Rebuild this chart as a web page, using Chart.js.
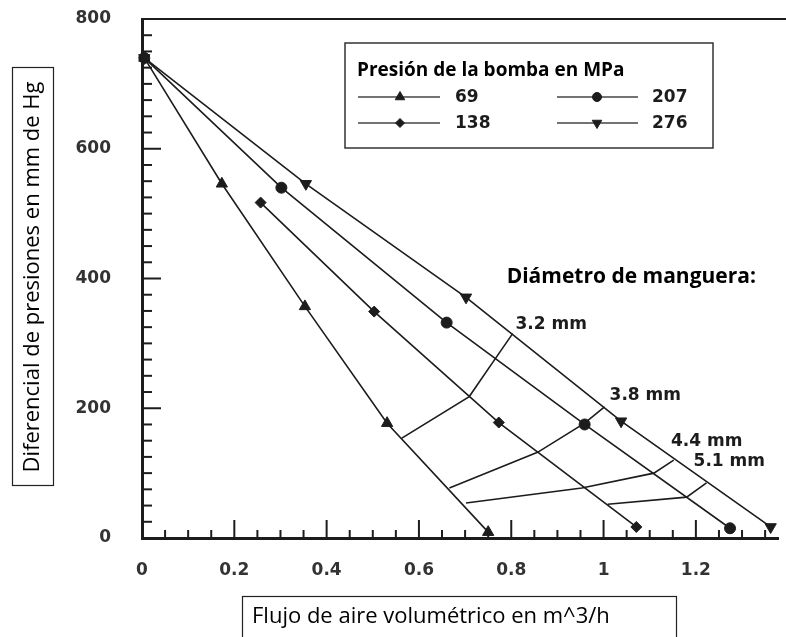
<!DOCTYPE html>
<html>
<head>
<meta charset="utf-8">
<script src="https://cdn.jsdelivr.net/npm/chart.js@4.4.0/dist/chart.umd.min.js"></script>
<style>
  html, body { margin: 0; padding: 0; background: #fff; }
  #wrap { position: relative; width: 786px; height: 637px; }
</style>
</head>
<body>
<div id="wrap"><canvas id="chart" width="786" height="637"></canvas></div>
<script>
// pump pressure series (MPa) - flow in m^3/h vs pressure differential in mm Hg
const seriesLabels = ['69', '138', '207', '276'];
const s69X = [0.005, 0.173, 0.353, 0.531, 0.750];
const s69Y = [740, 546, 357, 177, 9];
const s138X = [0.257, 0.503, 0.773, 1.071];
const s138Y = [517, 349, 178, 17];
const s207X = [0.005, 0.302, 0.660, 0.959, 1.274];
const s207Y = [740, 540, 332, 175, 15];
const s276X = [0.005, 0.355, 0.702, 1.038, 1.362];
const s276Y = [740, 546, 371, 180, 17];

// hose diameter lines
const hoseLabels = ['3.2 mm', '3.8 mm', '4.4 mm', '5.1 mm'];
const d32X = [0.563, 0.709, 0.764, 0.803];
const d32Y = [154, 218, 275, 315];
const d38X = [0.666, 0.857, 0.959, 1.002];
const d38Y = [77, 132, 177, 202];
const d44X = [0.702, 0.953, 1.109, 1.152];
const d44Y = [54, 77, 100, 120];
const d51X = [1.009, 1.180, 1.223];
const d51Y = [52, 63, 85];
// where the hose labels sit (data coords)
const hoseLabelX = [0.809, 1.013, 1.146, 1.195];
const hoseLabelY = [329, 220, 149, 118];

// axis
const xMin = 0, xMax = 1.379, xStep = 0.2, xMinor = 0.05;
const yMin = 0, yMax = 800, yStep = 200, yMinor = 25;

const ink = '#1c1c1c';

function pts(xs, ys) {
    return xs.map((x, i) => ({ x: x, y: ys[i] }))
}

const seriesStyle = [
    { pointStyle: 'triangle', rotation: 0, radius: 6.5 },
    { pointStyle: 'rectRot', rotation: 0, radius: 5.5 },
    { pointStyle: 'circle', rotation: 0, radius: 5.5 },
    { pointStyle: 'triangle', rotation: 180, radius: 6.5 }
]

const seriesData = [pts(s69X, s69Y), pts(s138X, s138Y), pts(s207X, s207Y), pts(s276X, s276Y)]
const hoseData = [pts(d32X, d32Y), pts(d38X, d38Y), pts(d44X, d44Y), pts(d51X, d51Y)]

let datasets = []
seriesData.forEach((d, i) => {
    datasets.push({
        label: seriesLabels[i],
        data: d,
        showLine: true,
        borderColor: ink,
        borderWidth: 1.6,
        backgroundColor: ink,
        pointBackgroundColor: ink,
        pointBorderColor: ink,
        pointBorderWidth: 1,
        pointStyle: seriesStyle[i].pointStyle,
        pointRotation: seriesStyle[i].rotation,
        pointRadius: seriesStyle[i].radius,
        clip: false
    })
})
hoseData.forEach((d, i) => {
    datasets.push({
        label: hoseLabels[i],
        data: d,
        showLine: true,
        borderColor: ink,
        borderWidth: 1.6,
        pointRadius: 0,
        clip: false
    })
})

function marker(ctx, style, x, y) {
    if (Chart.helpers && Chart.helpers.drawPoint) {
        ctx.fillStyle = ink
        ctx.strokeStyle = ink
        ctx.lineWidth = 1
        Chart.helpers.drawPoint(ctx, { pointStyle: style.pointStyle, rotation: style.rotation, radius: style.radius, borderWidth: 1 }, x, y)
    }
}

const extras = {
    id: 'extras',
    afterDraw(chart) {
        const ctx = chart.ctx
        const area = chart.chartArea
        const xs = chart.scales.x
        const ys = chart.scales.y
        ctx.save()

        // top frame line
        ctx.strokeStyle = ink
        ctx.lineWidth = 2
        ctx.beginPath()
        ctx.moveTo(area.left, area.top)
        ctx.lineTo(chart.width, area.top)
        ctx.stroke()

        // inward ticks
        ctx.lineWidth = 2
        for (let v = yMin; v <= yMax; v += yMinor) {
            const len = v % yStep === 0 ? 19 : 10
            const py = ys.getPixelForValue(v)
            ctx.beginPath()
            ctx.moveTo(area.left, py)
            ctx.lineTo(area.left + len, py)
            ctx.stroke()
        }
        for (let k = 0; k * xMinor <= xMax; k++) {
            const v = k * xMinor
            const len = k % 4 === 0 ? 18 : 8
            const px = xs.getPixelForValue(v)
            ctx.beginPath()
            ctx.moveTo(px, area.bottom)
            ctx.lineTo(px, area.bottom - len)
            ctx.stroke()
        }

        // hose diameter labels
        ctx.fillStyle = ink
        ctx.textBaseline = 'middle'
        ctx.textAlign = 'left'
        ctx.font = 'bold 17px "DejaVu Sans"'
        hoseLabels.forEach((t, i) => {
            ctx.fillText(t, xs.getPixelForValue(hoseLabelX[i]), ys.getPixelForValue(hoseLabelY[i]))
        })
        ctx.font = 'bold 21px "Open Sans"'
        ctx.fillStyle = '#000'
        ctx.fillText('Diámetro de manguera:', xs.getPixelForValue(0.790), ys.getPixelForValue(402))

        // legend
        ctx.strokeStyle = '#333'
        ctx.lineWidth = 1.5
        ctx.strokeRect(345, 43, 368, 105)
        ctx.fillStyle = '#000'
        ctx.font = 'bold 19px "Open Sans"'
        ctx.textBaseline = 'alphabetic'
        ctx.fillText('Presión de la bomba en MPa', 357, 76)
        const cols = [[358, 440, 400, 455], [557, 638, 597, 652]]
        const rows = [97, 123]
        const order = [[0, 0, 0], [1, 0, 1], [2, 1, 0], [3, 1, 1]]
        ctx.textBaseline = 'middle'
        order.forEach(o => {
            const c = cols[o[1]], ry = rows[o[2]]
            ctx.strokeStyle = '#444'
            ctx.lineWidth = 1.4
            ctx.beginPath()
            ctx.moveTo(c[0], ry)
            ctx.lineTo(c[1], ry)
            ctx.stroke()
            const st = Object.assign({}, seriesStyle[o[0]])
            st.radius = st.radius - 1
            marker(ctx, st, c[2], ry)
            ctx.fillStyle = ink
            ctx.font = 'bold 17px "DejaVu Sans"'
            ctx.fillText(seriesLabels[o[0]], c[3], ry + 1)
        })

        // boxed axis titles
        ctx.strokeStyle = '#222'
        ctx.lineWidth = 1.2
        ctx.strokeRect(12.5, 67.5, 41, 418)
        ctx.save()
        ctx.translate(33, 277)
        ctx.rotate(-Math.PI / 2)
        ctx.textAlign = 'center'
        ctx.textBaseline = 'middle'
        ctx.fillStyle = '#000'
        ctx.font = '22px "Open Sans"'
        ctx.fillText('Diferencial de presiones en mm de Hg', 0, 0)
        ctx.restore()

        ctx.strokeRect(242.5, 596.5, 434, 50)
        ctx.textAlign = 'left'
        ctx.textBaseline = 'middle'
        ctx.fillStyle = '#000'
        ctx.font = '22px "Open Sans"'
        ctx.fillText('Flujo de aire volumétrico en m^3/h', 252, 617)

        ctx.restore()
    }
}

const tickFont = { family: 'DejaVu Sans', size: 17, weight: 'bold' }

new Chart(document.getElementById('chart').getContext('2d'), {
    type: 'scatter',
    data: { datasets: datasets },
    plugins: [extras],
    options: {
        responsive: false,
        animation: false,
        devicePixelRatio: 1,
        layout: { padding: { top: 19, right: 0, left: 0, bottom: 0 } },
        plugins: {
            legend: { display: false },
            tooltip: { enabled: false }
        },
        scales: {
            x: {
                type: 'linear',
                min: xMin,
                max: xMax,
                ticks: {
                    stepSize: xStep,
                    includeBounds: false,
                    color: '#333',
                    font: tickFont,
                    padding: 22,
                    callback: v => Math.round(v * 10) / 10
                },
                grid: { drawOnChartArea: false, drawTicks: false },
                border: { display: true, width: 3, color: ink },
                afterFit(scale) {
                    scale.height = 99
                    scale.paddingLeft = 0
                    scale.paddingRight = 0
                }
            },
            y: {
                type: 'linear',
                min: yMin,
                max: yMax,
                ticks: {
                    stepSize: yStep,
                    color: '#333',
                    font: tickFont,
                    padding: 31
                },
                grid: { drawOnChartArea: false, drawTicks: false },
                border: { display: true, width: 3, color: ink },
                afterFit(scale) {
                    scale.width = 142
                    scale.paddingTop = 0
                    scale.paddingBottom = 0
                }
            }
        }
    }
});
</script>
</body>
</html>
